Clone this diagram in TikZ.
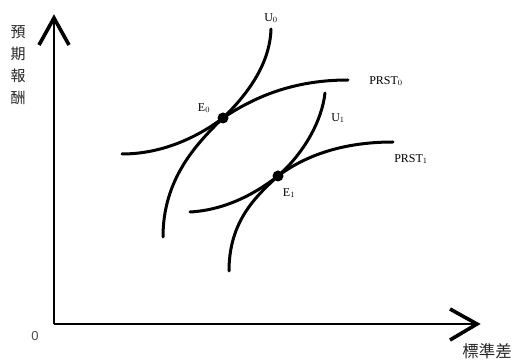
\documentclass[tikz,border=0pt]{standalone}
\usepackage{fontspec}
\setmainfont{Liberation Serif}
\newfontfamily\cjk{Noto Sans CJK TC}
\newfontfamily\lsans{Liberation Sans}
\begin{document}
\begin{tikzpicture}[x=1pt,y=-1pt,
  axis/.style={line width=2.6pt},
  tipline/.style={line width=3.6pt,line join=miter},
  curve/.style={line width=3pt,line cap=round},
  lbl/.style={font=\fontsize{12}{14}\selectfont,inner sep=0pt},
  cjklbl/.style={font=\cjk\fontsize{15}{17}\selectfont,inner sep=0pt,text=black!85},
  dot/.style={circle,fill=black,inner sep=0pt,minimum size=11pt}]
\useasboundingbox (0,0) rectangle (512,363);
% axes
\coordinate (O) at (54,324);
\coordinate (ytip) at (54,18);
\coordinate (xtip) at (477,324);
\draw[axis] (O) -- (ytip);
\draw[axis] (O) -- (xtip);
\draw[tipline] (39,45) -- (ytip) -- (69,45);
\draw[tipline] (450,309) -- (xtip) -- (450,340);
% axis labels
\node[cjklbl] (l1) at (18,32) {預};
\node[cjklbl] (l2) at (18,54) {期};
\node[cjklbl] (l3) at (18,76) {報};
\node[cjklbl] (l4) at (18,98) {酬};
\node[cjklbl,font=\cjk\fontsize{16.5}{18}\selectfont] (xl) at (487,351) {標準差};
\node[lbl,font=\lsans\fontsize{13}{15}\selectfont,text=black!70] (zero) at (35,336) {0};
% equilibrium points
\coordinate (E0) at (223,118);
\coordinate (E1) at (278,176);
% curves
\draw[curve] (163,237) .. controls (163,180) and (195,145) .. (E0)
                       .. controls (250,92) and (270,62) .. (271,29);
\draw[curve] (122,154) .. controls (160,154) and (195,139) .. (E0)
                       .. controls (260,93) and (300,80) .. (348,80);
\draw[curve] (229,271) .. controls (229,222) and (255,197) .. (E1)
                       .. controls (305,152) and (322,120) .. (325,93);
\draw[curve] (190,212) .. controls (225,210) and (255,194) .. (E1)
                       .. controls (310,152) and (350,142) .. (393,142);
\node[dot] (d0) at (E0) {};
\node[dot] (d1) at (E1) {};
% curve labels
\node[lbl] (u0) at (271,18) {U$_0$};
\node[lbl] (prst0) at (386,81) {PRST$_0$};
\node[lbl] (u1) at (338,118) {U$_1$};
\node[lbl] (prst1) at (411,159) {PRST$_1$};
\node[lbl] (e0) at (204,108) {E$_0$};
\node[lbl] (e1) at (289,193) {E$_1$};
\end{tikzpicture}
\end{document}
